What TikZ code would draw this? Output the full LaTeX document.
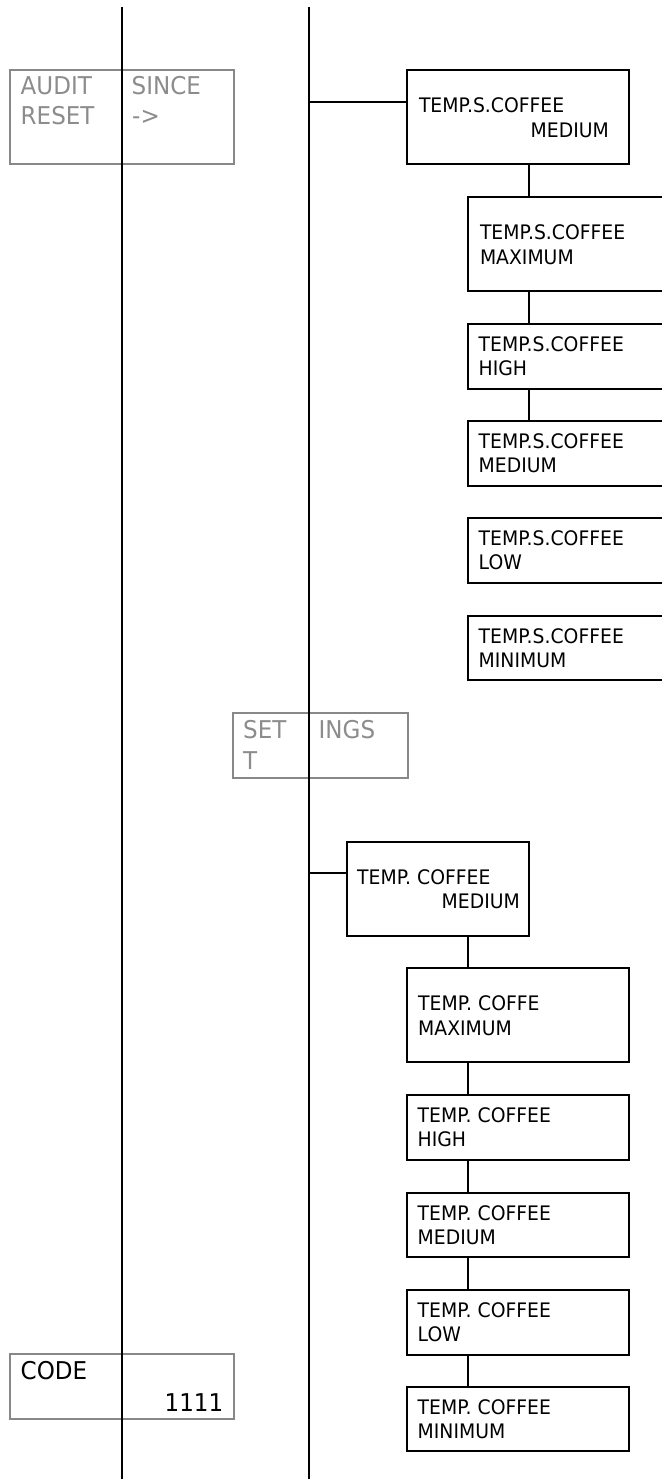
\documentclass[tikz,border=0pt]{standalone}
\usepackage{fontspec}
\setmainfont[FakeStretch=0.94]{DejaVu Sans}
\definecolor{boxgray}{RGB}{136,136,136}
\definecolor{txtgray}{RGB}{140,140,140}
\tikzset{
  frame/.style={draw, line width=2pt, inner sep=0pt, outer sep=0pt, anchor=north west},
  bigframe/.style={frame, minimum height=94pt},
  smallframe/.style={frame, minimum height=64.7pt},
  grayframe/.style={draw=boxgray, line width=2pt, inner sep=0pt, outer sep=0pt, anchor=north west},
  lbl/.style={inner sep=0pt, anchor=base west, font=\fontsize{20}{24.5}\selectfont},
  rlbl/.style={lbl, anchor=base east},
  glbl/.style={inner sep=0pt, anchor=base west, text=txtgray, font=\fontsize{24.5}{30}\selectfont},
  klbl/.style={inner sep=0pt, anchor=base west, font=\fontsize{24.5}{30}\selectfont},
  wire/.style={line width=2pt},
}
\begin{document}
\begin{tikzpicture}[x=1pt,y=-1pt]
\useasboundingbox (0,0) rectangle (661,1479);

% grey display boxes
\node[grayframe, minimum width=224pt, minimum height=94pt] (audit) at (10,70) {};
\node[glbl] (audit1) at (20.5,95) {AUDIT};
\node[glbl] (audit2) at (20.5,125) {RESET};
\node[glbl] (since1) at (131.5,95) {SINCE};
\node[glbl] (since2) at (132,125) {->};

\node[grayframe, minimum width=175.6pt, minimum height=65.6pt] (sett) at (232.7,712.7) {};
\node[glbl] (sett1) at (243,738.5) {SET};
\node[glbl] (sett2) at (243,769) {T};
\node[glbl] (sett3) at (318.5,738.5) {INGS};

\node[grayframe, minimum width=224pt, minimum height=65.3pt] (code) at (10,1354) {};
\node[klbl] (code1) at (20.5,1379.5) {CODE};
\node[klbl, anchor=base east] (code2) at (223.5,1411) {1111};

% trunk lines
\coordinate (L1top) at (122.3,7);
\coordinate (L1bot) at (122.3,1480);
\coordinate (L2top) at (309.3,7);
\coordinate (L2bot) at (309.3,1480);
\draw[wire] (L1top) -- (L1bot);
\draw[wire] (L2top) -- (L2bot);

% upper group
\node[bigframe, minimum width=221.7pt] (s1) at (407.3,70) {};
\node[lbl] (s1a) at (418.8,113) {TEMP.S.COFFEE};
\node[rlbl] (s1b) at (609,137.5) {MEDIUM};

\node[bigframe, minimum width=240pt] (s2) at (468.3,197.3) {};
\node[lbl] (s2a) at (479.8,240) {TEMP.S.COFFEE};
\node[lbl] (s2b) at (479.8,264.5) {MAXIMUM};

\node[smallframe, minimum width=240pt] (s3) at (467.7,324) {};
\node[lbl] (s3a) at (478.5,351.3) {TEMP.S.COFFEE};
\node[lbl] (s3b) at (478.5,375.8) {HIGH};

\node[smallframe, minimum width=240pt] (s4) at (467.7,421) {};
\node[lbl] (s4a) at (478.5,448.3) {TEMP.S.COFFEE};
\node[lbl] (s4b) at (478.5,472.8) {MEDIUM};

\node[smallframe, minimum width=240pt] (s5) at (467.7,518) {};
\node[lbl] (s5a) at (478.5,545.3) {TEMP.S.COFFEE};
\node[lbl] (s5b) at (478.5,569.8) {LOW};

\node[smallframe, minimum width=240pt] (s6) at (467.7,615.7) {};
\node[lbl] (s6a) at (478.5,643) {TEMP.S.COFFEE};
\node[lbl] (s6b) at (478.5,667.5) {MINIMUM};

\coordinate (s1in) at ([yshift=-32.3pt]s1.north west);
\draw[wire] (s1in -| L2top) -- (s1in);
\coordinate (s1j) at ([xshift=121.4pt]s1.south west);
\draw[wire] (s1j) -- (s1j |- s2.north);
\coordinate (s2j) at ([xshift=60.4pt]s2.south west);
\draw[wire] (s2j) -- (s2j |- s3.north);
\coordinate (s3j) at ([xshift=61pt]s3.south west);
\draw[wire] (s3j) -- (s3j |- s4.north);

% lower group
\node[bigframe, minimum width=182.3pt] (c1) at (346.7,841.7) {};
\node[lbl] (c1a) at (357,884.3) {TEMP. COFFEE};
\node[rlbl] (c1b) at (520,908.8) {MEDIUM};

\node[bigframe, minimum width=221.7pt] (c2) at (407.3,968.3) {};
\node[lbl] (c2a) at (418,1010.8) {TEMP. COFFE};
\node[lbl] (c2b) at (418,1035.3) {MAXIMUM};

\node[smallframe, minimum width=221.7pt] (c3) at (407.3,1095) {};
\node[lbl] (c3a) at (417.5,1122.3) {TEMP. COFFEE};
\node[lbl] (c3b) at (417.5,1146.8) {HIGH};

\node[smallframe, minimum width=221.7pt] (c4) at (407.3,1192.7) {};
\node[lbl] (c4a) at (417.5,1220) {TEMP. COFFEE};
\node[lbl] (c4b) at (417.5,1244.5) {MEDIUM};

\node[smallframe, minimum width=221.7pt] (c5) at (407.3,1290) {};
\node[lbl] (c5a) at (417.5,1317.3) {TEMP. COFFEE};
\node[lbl] (c5b) at (417.5,1341.8) {LOW};

\node[smallframe, minimum width=221.7pt] (c6) at (407.3,1386.7) {};
\node[lbl] (c6a) at (417.5,1414) {TEMP. COFFEE};
\node[lbl] (c6b) at (417.5,1438.5) {MINIMUM};

\coordinate (c1in) at ([yshift=-31pt]c1.north west);
\draw[wire] (c1in -| L2top) -- (c1in);
\coordinate (c1j) at ([xshift=121.6pt]c1.south west);
\draw[wire] (c1j) -- (c1j |- c2.north);
\coordinate (c2j) at ([xshift=61pt]c2.south west);
\draw[wire] (c2j) -- (c2j |- c3.north);
\coordinate (c3j) at ([xshift=61pt]c3.south west);
\draw[wire] (c3j) -- (c3j |- c4.north);
\coordinate (c4j) at ([xshift=61pt]c4.south west);
\draw[wire] (c4j) -- (c4j |- c5.north);
\coordinate (c5j) at ([xshift=61pt]c5.south west);
\draw[wire] (c5j) -- (c5j |- c6.north);
\end{tikzpicture}
\end{document}
